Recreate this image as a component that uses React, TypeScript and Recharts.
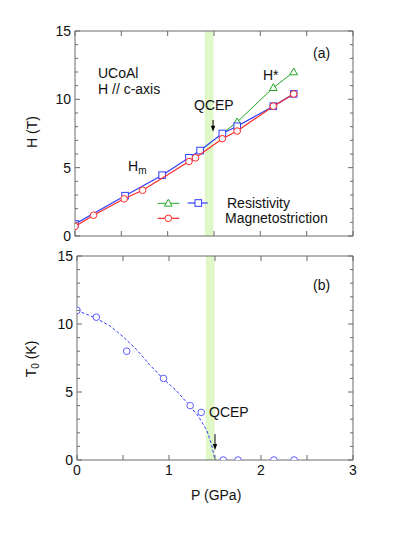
import React from 'react';
import {
  ComposedChart,
  Scatter,
  XAxis,
  YAxis,
  ReferenceArea,
  ReferenceLine,
  ReferenceDot,
} from 'recharts';

const FONT = '"Liberation Sans", Arial, Helvetica, sans-serif';
const AXIS = '#6a6a6a';
const RED = '#ff2a2a';
const BLUE = '#2f3cff';
const GREEN = '#22a522';
const BAND = '#e0f8c8';

// ---------- Panel (a): critical fields vs pressure ----------
const resP = [0, 0.54, 0.94, 1.23, 1.35, 1.59, 1.75, 2.14, 2.36];
const resH = [0.88, 2.95, 4.45, 5.72, 6.25, 7.5, 8.03, 9.5, 10.4];
const magP = [0, 0.2, 0.53, 0.73, 1.23, 1.3, 1.59, 1.75, 2.14, 2.36];
const magH = [0.7, 1.52, 2.72, 3.35, 5.45, 5.72, 7.12, 7.68, 9.5, 10.39];
const hStarP = [1.59, 1.75, 2.14, 2.36];
const hStarH = [7.5, 8.34, 10.85, 12.0];

// ---------- Panel (b): T0 vs pressure ----------
const t0P = [0, 0.21, 0.54, 0.94, 1.23, 1.35, 1.59, 1.75, 2.14, 2.36];
const t0K = [11, 10.5, 8.0, 6.0, 4.0, 3.5, 0, 0, 0, 0];
const fitP = [0, 0.2, 0.36, 0.5, 0.65, 0.79, 0.94, 1.08, 1.21, 1.32, 1.41, 1.46, 1.5];
const fitK = [11, 10.45, 9.85, 9.07, 8.1, 7.0, 5.95, 5.1, 4.1, 3.2, 2.2, 1.2, 0];

// ---------- Axes ----------
const yTicks = [0, 1, 2, 3, 4, 5, 6, 7, 8, 9, 10, 11, 12, 13, 14, 15];
const yTickLabels = [0, 5, 10, 15];
const xTicks = [0, 0.5, 1, 1.5, 2, 2.5, 3];
const xTickLabels = [0, 1, 2, 3];
const qcepBand = [1.4, 1.495];

const mk = (p: number[], v: number[]) => p.map((x, i) => ({ p: x, v: v[i] }));
const resData = mk(resP, resH);
const magData = mk(magP, magH);
const hStarData = mk(hStarP, hStarH);
const hStarMarkers = hStarData.slice(1);
const t0Data = mk(t0P, t0K);
const fitData = mk(fitP, fitK);

type Side = 'left' | 'right' | 'top' | 'bottom';
const makeTick = (side: Side, labels: number[] | null) => (props: any) => {
  const { x, y, payload } = props;
  const v = payload.value;
  const vertical = side === 'left' || side === 'right';
  const major = vertical ? v % 5 === 0 : true;
  const len = major ? 5 : 3;
  const showLabel = labels ? labels.includes(v) : false;
  let line;
  let text = null;
  if (side === 'left') {
    line = <line x1={x} y1={y} x2={x + len} y2={y} stroke={AXIS} />;
    if (showLabel)
      text = (
        <text x={x - 4} y={y + 5} textAnchor="end" fontSize={14} fontFamily={FONT} fill="#111">
          {v}
        </text>
      );
  } else if (side === 'right') {
    line = <line x1={x} y1={y} x2={x - len} y2={y} stroke={AXIS} />;
  } else if (side === 'bottom') {
    line = <line x1={x} y1={y} x2={x} y2={y - len} stroke={AXIS} />;
    if (showLabel)
      text = (
        <text x={x} y={y + 15} textAnchor="middle" fontSize={14} fontFamily={FONT} fill="#111">
          {v}
        </text>
      );
  } else {
    line = <line x1={x} y1={y} x2={x} y2={y + len} stroke={AXIS} />;
  }
  return (
    <g>
      {line}
      {text}
    </g>
  );
};

const circleShape = (color: string) => (p: any) => (
  <circle cx={p.cx} cy={p.cy} r={3.3} fill="#fff" stroke={color} strokeWidth={1} />
);
const squareShape = (color: string) => (p: any) => (
  <rect x={p.cx - 3.3} y={p.cy - 3.3} width={6.6} height={6.6} fill="#fff" stroke={color} strokeWidth={1} />
);
const triangleShape = (color: string) => (p: any) => (
  <path
    d={`M${p.cx},${p.cy - 4} L${p.cx + 3.8},${p.cy + 2.8} L${p.cx - 3.8},${p.cy + 2.8} Z`}
    fill="#fff"
    stroke={color}
    strokeWidth={1}
  />
);
const noShape = () => <g />;
const arrowHead = (p: any) => (
  <path d={`M${p.cx},${p.cy} L${p.cx - 2.2},${p.cy - 6} L${p.cx + 2.2},${p.cy - 6} Z`} fill="#000" />
);

const axesSet = (bottomLabels: number[] | null, topH: number, botH: number) => [
  <XAxis
    key="xb"
    xAxisId={0}
    type="number"
    dataKey="p"
    domain={[0, 3]}
    ticks={xTicks}
    interval={0}
    allowDataOverflow
    height={botH}
    tickSize={0}
    tickMargin={0}
    tickLine={false}
    axisLine={{ stroke: AXIS }}
    tick={makeTick('bottom', bottomLabels)}
  />,
  <XAxis
    key="xt"
    xAxisId="top"
    orientation="top"
    type="number"
    dataKey="p"
    domain={[0, 3]}
    ticks={xTicks}
    interval={0}
    allowDataOverflow
    height={topH}
    tickSize={0}
    tickMargin={0}
    tickLine={false}
    axisLine={{ stroke: AXIS }}
    tick={makeTick('top', null)}
  />,
  <YAxis
    key="yl"
    yAxisId={0}
    type="number"
    dataKey="v"
    domain={[0, 15]}
    ticks={yTicks}
    interval={0}
    allowDataOverflow
    width={30}
    tickSize={0}
    tickMargin={0}
    tickLine={false}
    axisLine={{ stroke: AXIS }}
    tick={makeTick('left', yTickLabels)}
  />,
  <YAxis
    key="yr"
    yAxisId="right"
    orientation="right"
    type="number"
    dataKey="v"
    domain={[0, 15]}
    ticks={yTicks}
    interval={0}
    allowDataOverflow
    width={10}
    tickSize={0}
    tickMargin={0}
    tickLine={false}
    axisLine={{ stroke: AXIS }}
    tick={makeTick('right', null)}
  />,
];

const txt = (left: number, cy: number, content: React.ReactNode, extra: React.CSSProperties = {}) => (
  <div
    style={{
      position: 'absolute',
      left,
      top: cy,
      transform: 'translateY(-50%)',
      fontFamily: FONT,
      fontSize: 14,
      lineHeight: 1,
      color: '#111',
      whiteSpace: 'nowrap',
      ...extra,
    }}
  >
    {content}
  </div>
);

const vtxt = (cx: number, cy: number, content: React.ReactNode) => (
  <div
    style={{
      position: 'absolute',
      left: cx,
      top: cy,
      transform: 'translate(-50%, -50%) rotate(-90deg)',
      fontFamily: FONT,
      fontSize: 14,
      lineHeight: 1,
      color: '#111',
      whiteSpace: 'nowrap',
    }}
  >
    {content}
  </div>
);

export default function App() {
  return (
    <div style={{ position: 'relative', width: 399, height: 521, fontFamily: FONT }}>
      {/* Panel (a) */}
      <div style={{ position: 'absolute', left: 0, top: 0 }}>
        <ComposedChart width={360} height={250} margin={{ top: 13, left: 37, right: 5, bottom: 12 }}>
          <ReferenceArea x1={qcepBand[0]} x2={qcepBand[1]} fill={BAND} fillOpacity={1} stroke="none" />
          {axesSet(null, 10, 10)}
          <Scatter
            data={hStarData}
            dataKey="v"
            line={{ stroke: GREEN, strokeWidth: 1 }}
            lineType="joint"
            shape={noShape}
            isAnimationActive={false}
          />
          <Scatter data={hStarMarkers} dataKey="v" shape={triangleShape(GREEN)} isAnimationActive={false} />
          <Scatter
            data={resData}
            dataKey="v"
            line={{ stroke: BLUE, strokeWidth: 1.2 }}
            lineType="joint"
            shape={squareShape(BLUE)}
            isAnimationActive={false}
          />
          <Scatter
            data={magData}
            dataKey="v"
            line={{ stroke: RED, strokeWidth: 1.2 }}
            lineType="joint"
            shape={circleShape(RED)}
            isAnimationActive={false}
          />
          <ReferenceLine
            segment={[
              { x: 1.49, y: 8.49 },
              { x: 1.49, y: 7.9 },
            ]}
            stroke="#000"
            strokeWidth={1}
          />
          <ReferenceDot x={1.49} y={7.63} shape={arrowHead} />
        </ComposedChart>
      </div>

      {/* Panel (b) */}
      <div style={{ position: 'absolute', left: 0, top: 240 }}>
        <ComposedChart width={360} height={240} margin={{ top: 3, left: 39, right: 5, bottom: 8 }}>
          <ReferenceArea x1={qcepBand[0]} x2={qcepBand[1]} fill={BAND} fillOpacity={1} stroke="none" />
          {axesSet(xTickLabels, 5, 20)}
          <Scatter
            data={fitData}
            dataKey="v"
            line={{ stroke: BLUE, strokeWidth: 1, strokeDasharray: '3 2' }}
            lineType="joint"
            shape={noShape}
            isAnimationActive={false}
          />
          <Scatter data={t0Data} dataKey="v" shape={circleShape('#5a5cff')} isAnimationActive={false} />
          <ReferenceLine
            segment={[
              { x: 1.5, y: 1.9 },
              { x: 1.5, y: 1.0 },
            ]}
            stroke="#000"
            strokeWidth={1}
          />
          <ReferenceDot x={1.5} y={0.74} shape={arrowHead} />
        </ComposedChart>
      </div>

      {/* Annotations */}
      {txt(305, 45, '(a)')}
      {txt(305, 277, '(b)')}
      {txt(90, 65, 'UCoAl')}
      {txt(90, 81, 'H // c-axis')}
      {txt(186, 97, 'QCEP')}
      {txt(120, 159, (
        <span>
          H<sub style={{ fontSize: 10, verticalAlign: '-3px' }}>m</sub>
        </span>
      ))}
      {txt(255, 67, 'H*')}
      {txt(219, 195, 'Resistivity')}
      {txt(217, 210, 'Magnetostriction')}
      {txt(201, 404, 'QCEP')}
      {vtxt(24, 124, 'H (T)')}
      {vtxt(24, 351, (
        <span>
          T<sub style={{ fontSize: 10, verticalAlign: '-3px' }}>0</sub> (K)
        </span>
      ))}
      {txt(183, 487, 'P (GPa)')}

      {/* Legend */}
      <svg style={{ position: 'absolute', left: 140, top: 185 }} width={70} height={35}>
        <line x1={9.7} y1={10.3} x2={31.3} y2={10.3} stroke={GREEN} />
        <path d="M20.3,6.3 L24.1,13.1 L16.5,13.1 Z" fill="#fff" stroke={GREEN} />
        <line x1={39.7} y1={10} x2={59.7} y2={10} stroke={BLUE} strokeWidth={1.2} />
        <rect x={47} y={6.7} width={6.6} height={6.6} fill="#fff" stroke={BLUE} />
        <line x1={9.7} y1={25.3} x2={31.3} y2={25.3} stroke={RED} strokeWidth={1.2} />
        <circle cx={20.3} cy={25.3} r={3.3} fill="#fff" stroke={RED} />
      </svg>
    </div>
  );
}
